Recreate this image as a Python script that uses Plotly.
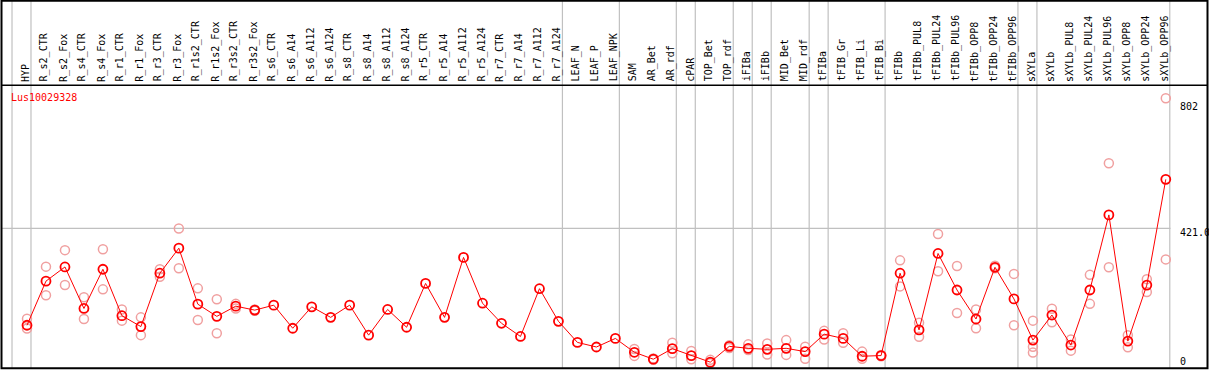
import plotly.graph_objects as go

categories = ["HYP", "R_s2_CTR", "R_s2_Fox", "R_s4_CTR", "R_s4_Fox", "R_r1_CTR", "R_r1_Fox",
              "R_r3_CTR", "R_r3_Fox", "R_r1s2_CTR", "R_r1s2_Fox", "R_r3s2_CTR", "R_r3s2_Fox",
              "R_s6_CTR", "R_s6_A14", "R_s6_A112", "R_s6_A124", "R_s8_CTR", "R_s8_A14",
              "R_s8_A112", "R_s8_A124", "R_r5_CTR", "R_r5_A14", "R_r5_A112", "R_r5_A124",
              "R_r7_CTR", "R_r7_A14", "R_r7_A112", "R_r7_A124", "LEAF_N", "LEAF_P", "LEAF_NPK",
              "SAM", "AR_Bet", "AR_rdf", "cPAR", "TOP_Bet", "TOP_rdf", "iFIBa", "iFIBb",
              "MID_Bet", "MID_rdf", "tFIBa", "tFIB_Gr", "tFIB_Li", "tFIB_Bi", "tFIBb",
              "tFIBb_PUL8", "tFIBb_PUL24", "tFIBb_PUL96", "tFIBb_OPP8", "tFIBb_OPP24",
              "tFIBb_OPP96", "sXYLa", "sXYLb", "sXYLb_PUL8", "sXYLb_PUL24", "sXYLb_PUL96",
              "sXYLb_OPP8", "sXYLb_OPP24", "sXYLb_OPP96"]

means = [127, 261, 304, 178, 297, 156, 123, 285, 361, 191, 154, 185, 173,
         188, 118, 183, 151, 188, 97, 175, 121, 254, 151, 333, 194,
         133, 93, 238, 139, 75, 61, 87,
         45, 24, 56, 35, 15, 63, 57, 54, 57, 47, 100, 87, 33, 35, 285,
         113, 345, 234, 146, 303, 207, 82, 158, 67, 234, 462, 79, 249, 570]

rep1 = [147, 305, 355, 212, 358, 175, 151, 297, 421, 239, 206, 192, 175,
        None, None, None, None, None, None, None, None, None, None, None, None,
        None, None, None, None, None, None, None,
        55, 26, 74, 49, 22, 66, 69, 72, 82, 62, 110, 103, 47, 37, 324,
        135, 404, 307, 175, 308, 283, 141, 177, 84, 280, 619, 97, 267, 816]

rep2 = [117, 218, 249, 146, 236, 141, 97, 274, 300, 143, 103, 178, 171,
        None, None, None, None, None, None, None, None, None, None, None, None,
        None, None, None, None, None, None, None,
        34, 22, 42, 24, 12, 58, 52, 38, 37, 25, 84, 74, 25, 33, 245,
        92, 291, 164, 118, 300, 127, 62, 136, 50, 192, 303, 60, 228, 327]

rep3 = [None] * 53 + [44] + [None] * 7

group_ends = [-1, 0, 28, 31, 34, 35, 37, 38, 39, 41, 42, 45, 52, 53, 60]

gene_id = "Lus10029328"
axis_labels = ["802", "421.0", "0"]
grid_value = 421.0

W, H = 1209, 370
# pixel geometry
x0_px, dx_px = 27.0, 18.98
y0_px, py_per_unit = 367.1, 0.3294

def px2x(px):
    return (px - x0_px) / dx_px

def py2y(py):
    return (y0_px - py) / py_per_unit

FONT = "DejaVu Sans Mono"
xs = list(range(len(categories)))

fig = go.Figure()

rep_color = "#f0a0a0"
for reps in (rep1, rep2, rep3):
    fig.add_trace(go.Scatter(
        x=xs, y=reps, mode="markers",
        marker=dict(symbol="circle-open", size=9, color=rep_color, line=dict(width=1.5, color=rep_color)),
        cliponaxis=False, showlegend=False, hoverinfo="skip"))

fig.add_trace(go.Scatter(
    x=xs, y=means, mode="lines+markers",
    line=dict(color="#ff0000", width=1),
    marker=dict(symbol="circle-open", size=9, color="#ff0000", line=dict(width=1.8, color="#ff0000")),
    cliponaxis=False, showlegend=False))

shapes = []
# vertical group separators
for g in group_ends:
    xv = g + 0.21
    shapes.append(dict(type="line", xref="x", yref="paper", x0=xv, x1=xv,
                       y0=1 - 368 / H, y1=1, line=dict(color="#c0c0c0", width=1.2), layer="below"))
# horizontal grid line
shapes.append(dict(type="line", xref="paper", yref="y", x0=1 / W, x1=1170.5 / W,
                   y0=grid_value, y1=grid_value, line=dict(color="#c0c0c0", width=1.2), layer="below"))
# frame
shapes.append(dict(type="rect", xref="paper", yref="paper", x0=1.5 / W, x1=1207.5 / W,
                   y0=1 - 368.3 / H, y1=1 - 0.8 / H, line=dict(color="black", width=2)))
# header separator
shapes.append(dict(type="line", xref="paper", yref="paper", x0=1.5 / W, x1=1207.5 / W,
                   y0=1 - 85.3 / H, y1=1 - 85.3 / H, line=dict(color="black", width=1.5)))

annotations = []
for i, c in enumerate(categories):
    annotations.append(dict(x=i - 0.08, y=1 - 83.5 / H, xref="x", yref="paper", text=c,
                            textangle=-90, showarrow=False, xanchor="center", yanchor="bottom",
                            font=dict(family=FONT, size=10, color="black")))
annotations.append(dict(x=9 / W, y=1 - 97 / H, xref="paper", yref="paper", text=gene_id,
                        showarrow=False, xanchor="left", yanchor="middle",
                        font=dict(family=FONT, size=10, color="#ff0000")))
for lab, cy in zip(axis_labels, [106.7, 232.3, 361.7]):
    annotations.append(dict(x=1177.5 / W, y=1 - cy / H, xref="paper", yref="paper", text=lab,
                            showarrow=False, xanchor="left", yanchor="middle",
                            font=dict(family=FONT, size=10, color="black")))

fig.update_layout(
    width=W, height=H, margin=dict(l=0, r=0, t=0, b=0),
    paper_bgcolor="white", plot_bgcolor="white",
    xaxis=dict(range=[px2x(0), px2x(W)], visible=False, fixedrange=True),
    yaxis=dict(range=[py2y(H), py2y(0)], visible=False, fixedrange=True),
    shapes=shapes, annotations=annotations, showlegend=False,
)

fig.write_html("out.html", config={"displayModeBar": False},
               post_script="document.body.style.margin='0';document.body.style.padding='0';document.body.style.overflow='hidden';")
